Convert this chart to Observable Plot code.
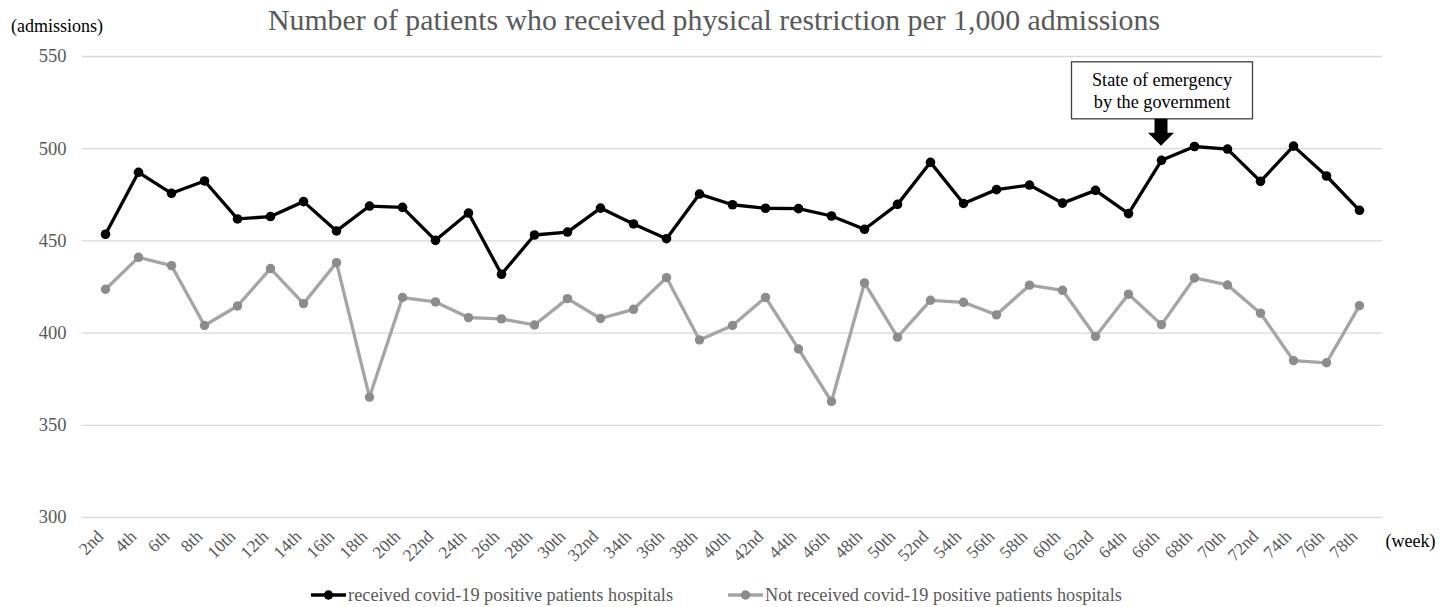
<!DOCTYPE html>
<html>
<head>
<meta charset="utf-8">
<script src="https://cdn.jsdelivr.net/npm/d3@7"></script>
<script src="https://cdn.jsdelivr.net/npm/@observablehq/plot@0.6"></script>
<style>
  body { margin: 0; background: #fff; font-family: "Liberation Serif", "Times New Roman", serif; }
  #wrap { position: relative; width: 1449px; height: 607px; overflow: hidden; background: #fff; }
  #title { height: 39px; line-height: 39px; font-size: 29.8px; color: #595959; text-align: center; padding-right: 21px; white-space: nowrap; }
  #ylab { position: absolute; left: 11px; top: 16px; font-size: 18px; line-height: 20px; color: #000; }
  #legend { display: flex; justify-content: center; align-items: center; gap: 55px; height: 32px; padding-top: 4px; font-size: 18.3px; color: #595959; padding-right: 16px; }
  .item { display: flex; align-items: center; }
  .item svg { margin-right: 2px; }
</style>
</head>
<body>
<div id="wrap">
  <div id="title"></div>
  <div id="ylab"></div>
  <div id="chart"></div>
  <div id="legend"></div>
</div>
<script>
// ---- data ----
const titleText = "Number of patients who received physical restriction per 1,000 admissions";
const yUnit = "(admissions)";
const xUnit = "(week)";
const weeks = ["2nd","4th","6th","8th","10th","12th","14th","16th","18th","20th",
  "22nd","24th","26th","28th","30th","32nd","34th","36th","38th","40th",
  "42nd","44th","46th","48th","50th","52nd","54th","56th","58th","60th",
  "62nd","64th","66th","68th","70th","72nd","74th","76th","78th"];
const received = [453.6, 487.2, 475.8, 482.5, 461.9, 463.2, 471.3, 455.4, 468.9, 468.2,
  450.3, 465.1, 431.9, 453.2, 454.8, 467.8, 459.2, 451.2, 475.4, 469.6,
  467.7, 467.5, 463.5, 456.3, 469.8, 492.6, 470.3, 477.8, 480.3, 470.5,
  477.4, 464.8, 493.7, 501.2, 499.8, 482.3, 501.4, 485.2, 466.6];
const notReceived = [423.8, 441.1, 436.6, 404.1, 414.7, 435.0, 416.0, 438.2, 365.3, 419.3,
  416.9, 408.4, 407.7, 404.4, 418.7, 407.9, 412.9, 430.1, 396.3, 404.1,
  419.4, 391.4, 362.9, 427.2, 397.8, 417.8, 416.7, 409.9, 426.0, 423.2,
  398.2, 421.1, 404.6, 429.9, 426.1, 410.8, 385.1, 383.9, 414.9];
const seriesNames = ["received covid-19 positive patients hospitals", "Not received covid-19 positive patients hospitals"];
const yTicks = [300, 350, 400, 450, 500, 550];
const emergencyWeek = "66th";
const annotationLines = ["State of emergency", "by the government"];

// ---- styles ----
const colors = ["#000000", "#a5a5a5"];
const dotColors = ["#000000", "#8c8c8c"];

const series = [received, notReceived].map((vals, s) =>
  weeks.map((w, i) => ({ week: w, value: vals[i], series: seriesNames[s] })));

document.getElementById("title").textContent = titleText;
document.getElementById("ylab").textContent = yUnit;

const plot = Plot.plot({
  width: 1449,
  height: 536,
  marginTop: 17,
  marginBottom: 58,
  marginLeft: 82,
  marginRight: 67,
  style: { fontFamily: "'Liberation Serif', 'Times New Roman', serif", fontSize: "16px", color: "#595959", background: "#fff", overflow: "visible" },
  x: { type: "point", domain: weeks, padding: 0.5, label: null },
  y: { domain: [300, 550], label: null },
  marks: [
    Plot.gridY(yTicks, { stroke: "#d9d9d9", strokeOpacity: 1, strokeWidth: 1.3 }),
    Plot.axisY(yTicks, { tickSize: 0, tickPadding: 16, fontSize: 18.5, label: null }),
    Plot.axisX({ tickSize: 0, tickPadding: 16, tickRotate: -45, fontSize: 17.5, dx: -5, label: null }),
    Plot.line(series[1], { x: "week", y: "value", stroke: colors[1], strokeWidth: 3.3 }),
    Plot.dot(series[1], { x: "week", y: "value", fill: dotColors[1], r: 4.7 }),
    Plot.line(series[0], { x: "week", y: "value", stroke: colors[0], strokeWidth: 3.3 }),
    Plot.dot(series[0], { x: "week", y: "value", fill: dotColors[0], r: 4.8 }),
    Plot.text([xUnit], { frameAnchor: "bottom-right", textAnchor: "start", dx: 3, dy: 29, fontSize: 18, fill: "#000" })
  ]
});
document.getElementById("chart").appendChild(plot);

// ---- annotation anchored to the emergency-week data point ----
const sx = plot.scale("x"), sy = plot.scale("y");
const idx = weeks.indexOf(emergencyWeek);
const cx = sx.apply(emergencyWeek);
const py = sy.apply(received[idx]);
const svg = d3.select(plot);
const g = svg.append("g");
const boxW = 181, boxTop = py - 98, boxBottom = py - 41, tipY = py - 14;
g.append("rect").attr("x", cx - boxW / 2 + 1).attr("y", boxTop).attr("width", boxW).attr("height", boxBottom - boxTop)
  .attr("fill", "#fff").attr("stroke", "#404040").attr("stroke-width", 1.3);
annotationLines.forEach((t, i) => {
  g.append("text").attr("x", cx + 1).attr("y", boxTop + 18 + i * 21.7).attr("text-anchor", "middle")
    .attr("dominant-baseline", "central").attr("font-size", 18.2).attr("fill", "#000").text(t);
});
const headY = tipY - 13;
g.append("path").attr("d",
  `M${cx - 6.5},${boxBottom} L${cx + 6.5},${boxBottom} L${cx + 6.5},${headY} L${cx + 13},${headY} L${cx},${tipY} L${cx - 13},${headY} L${cx - 6.5},${headY} Z`)
  .attr("fill", "#000");

// ---- legend ----
const legend = document.getElementById("legend");
seriesNames.forEach((name, s) => {
  const item = document.createElement("div");
  item.className = "item";
  item.innerHTML = `<svg width="35" height="12"><line x1="0" y1="6" x2="35" y2="6" stroke="${colors[s]}" stroke-width="3.3"/><circle cx="17.5" cy="6" r="4.7" fill="${dotColors[s]}"/></svg><span></span>`;
  item.querySelector("span").textContent = name;
  legend.appendChild(item);
});
</script>
</body>
</html>
